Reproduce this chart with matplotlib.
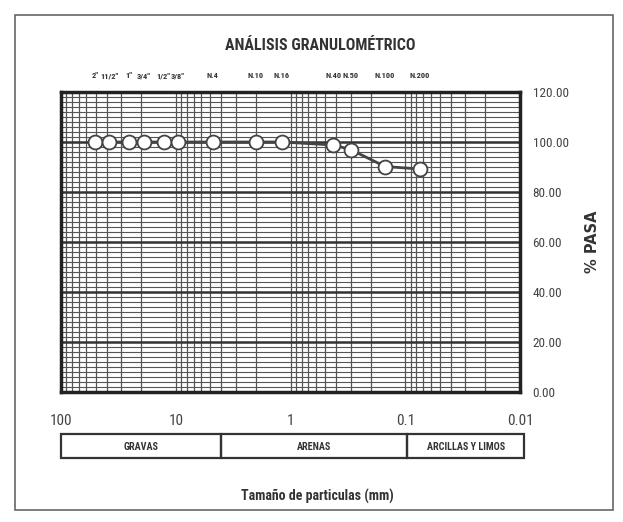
import matplotlib
matplotlib.use("Agg")
import matplotlib.pyplot as plt
from matplotlib.patches import Rectangle
from matplotlib.ticker import FixedLocator, LogLocator, NullFormatter
from matplotlib import font_manager

# Data
sieve_labels = ['2"', '11/2"', '1"', '3/4"', '1/2"', '3/8"', 'N.4', 'N.10', 'N.16',
                'N.40', 'N.50', 'N.100', 'N.200']
sieve_mm = [50.8, 38.1, 25.4, 19.05, 12.7, 9.525, 4.76, 2.0, 1.19, 0.425, 0.30, 0.15, 0.075]
pct_pasa = [100, 100, 100, 100, 100, 100, 100, 100, 100, 98.8, 97.0, 90.2, 89.2]
x_ticks = [100, 10, 1, 0.1, 0.01]
x_tick_labels = ['100', '10', '1', '0.1', '0.01']
y_ticks = [0, 20, 40, 60, 80, 100, 120]
zones = ['GRAVAS', 'ARENAS', 'ARCILLAS Y LIMOS']
zone_bounds = [100, 4.0, 0.096, 0.0092]

avail = {f.name for f in font_manager.fontManager.ttflist}
narrow = [n for n in ['Liberation Sans Narrow', 'Roboto Condensed', 'Open Sans Condensed',
                      'DejaVu Sans Condensed', 'Liberation Sans'] if n in avail]
font = narrow + ['DejaVu Sans']
plt.rcParams['font.family'] = font

fig = plt.figure(figsize=(6.23, 5.22), dpi=100)
fig.patches.append(Rectangle((15/623, 1-510/522), 598/623, 495/522, transform=fig.transFigure,
                             fill=False, edgecolor='#666666', linewidth=1.2))

ax = fig.add_axes([61/623, 1-392/522, 459/623, 300/522])
ax.set_xscale('log')
ax.set_xlim(100, 0.01)
ax.set_ylim(0, 120)

# grid
ax.xaxis.set_major_locator(FixedLocator(x_ticks))
ax.xaxis.set_minor_locator(LogLocator(base=10, subs=range(2, 10)))
ax.xaxis.set_minor_formatter(NullFormatter())
ax.set_xticks(x_ticks)
ax.set_xticklabels(x_tick_labels)
ax.set_yticks(y_ticks)
ax.set_yticks(range(0, 121, 2), minor=True)
ax.grid(which='major', axis='y', color='#333333', linewidth=1.8)
ax.grid(which='minor', axis='y', color='#555555', linewidth=0.8)
ax.grid(which='both', axis='x', color='#555555', linewidth=0.9)
ax.yaxis.tick_right()
ax.yaxis.set_label_position('right')
ax.set_yticklabels([f'{v:.2f}' for v in y_ticks])
ax.tick_params(axis='y', which='both', length=0, pad=9, labelsize=9.5, labelcolor='#444444')
ax.tick_params(axis='x', which='both', length=0, pad=16, labelsize=11, labelcolor='#444444')
for s in ax.spines.values():
    s.set_linewidth(2.5)
    s.set_color('#222222')

ax.plot(sieve_mm, pct_pasa, color='#444444', linewidth=2, marker='o', markersize=10,
        markerfacecolor='white', markeredgecolor='#444444', markeredgewidth=1.3, zorder=5)

ax.set_ylabel('% PASA', fontsize=10.5, fontweight='bold', labelpad=12, color='#333333',
              family=['DejaVu Sans'])

# top sieve labels
ax2 = ax.secondary_xaxis('top')
ax2.set_xticks(sieve_mm)
ax2.set_xticklabels(sieve_labels)
ax2.tick_params(length=0, pad=9, labelsize=6, labelcolor='#333333')
ax2.xaxis.set_minor_locator(FixedLocator([]))
for lab in ax2.get_xticklabels():
    lab.set_fontweight('bold')

fig.text(320/623, 1-45/522, 'ANÁLISIS GRANULOMÉTRICO', ha='center', va='center',
         fontsize=11.5, fontweight='bold', color='#333333')

# zone boxes
bx = fig.add_axes([61/623, 1-458/522, 459/623, 24/522])
bx.set_xscale('log')
bx.set_xlim(100, 0.01)
bx.set_ylim(0, 1)
bx.axis('off')
for i, z in enumerate(zones):
    x0, x1 = zone_bounds[i], zone_bounds[i+1]
    bx.add_patch(Rectangle((x1, 0), x0 - x1, 1, fill=False, edgecolor='#333333',
                           linewidth=1.6, clip_on=False))
    xm = (x0 * x1) ** 0.5
    bx.text(xm, 0.45, z, ha='center', va='center', fontsize=7.3, fontweight='bold',
            color='#333333')

fig.text(317/623, 1-496/522, 'Tamaño de particulas (mm)', ha='center', va='center',
         fontsize=10, fontweight='bold', color='#333333')

fig.savefig('out.png', dpi=100)
